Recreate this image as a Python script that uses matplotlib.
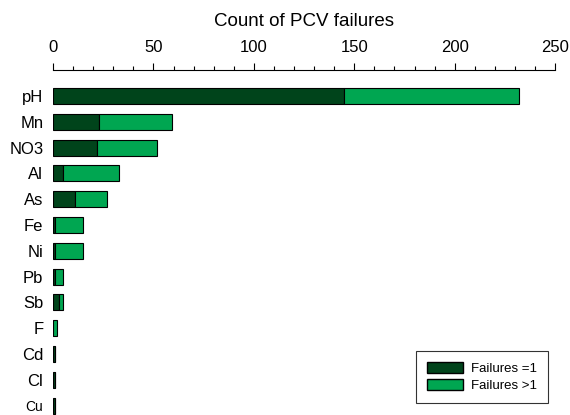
import matplotlib.pyplot as plt
import numpy as np
from matplotlib.patches import Patch
from matplotlib.ticker import MultipleLocator

plt.rcParams['font.family'] = ['Liberation Sans', 'DejaVu Sans']

elements = ['pH', 'Mn', 'NO3', 'Al', 'As', 'Fe', 'Ni', 'Pb', 'Sb', 'F', 'Cd', 'Cl', 'Cu']
fail_once = [145, 23, 22, 5, 11, 1, 1, 1, 3, 0, 1, 1, 1]
fail_more = [87, 36, 30, 28, 16, 14, 14, 4, 2, 2, 0, 0, 0]
x_ticks = [0, 50, 100, 150, 200, 250]

dark = '#00441b'
light = '#00a651'

fig = plt.figure(figsize=(5.7, 4.15), dpi=100)
ax = fig.add_axes([0.093, 0.0, 0.881, 0.831])

y = np.arange(len(elements))
ax.barh(y, fail_once, height=0.62, color=dark, edgecolor='black', linewidth=0.8)
ax.barh(y, fail_more, left=fail_once, height=0.62, color=light, edgecolor='black', linewidth=0.8)

ax.set_xlim(0, 250)
ax.set_ylim(12.36, -1.0)
ax.set_yticks(y)
ax.set_yticklabels(elements, fontsize=12)
ax.get_yticklabels()[-1].set_fontsize(10)
ax.tick_params(axis='y', length=0, pad=7)

ax.xaxis.tick_top()
ax.xaxis.set_label_position('top')
ax.set_xticks(x_ticks)
ax.xaxis.set_minor_locator(MultipleLocator(10))
ax.tick_params(axis='x', which='major', direction='out', length=5, width=0.8, labelsize=12, pad=6)
ax.tick_params(axis='x', which='minor', direction='out', length=3, width=0.8)
ax.set_xlabel('Count of PCV failures', fontsize=13.5, labelpad=10)

for s in ['left', 'right', 'bottom']:
    ax.spines[s].set_visible(False)
ax.spines['top'].set_linewidth(0.8)

handles = [Patch(facecolor=dark, edgecolor='black', label='Failures =1'),
           Patch(facecolor=light, edgecolor='black', label='Failures >1')]
leg = ax.legend(handles=handles, loc='lower right', bbox_to_anchor=(0.961, 0.029),
                bbox_transform=fig.transFigure, fontsize=9.5, frameon=True, fancybox=False,
                edgecolor='black', handlelength=2.7, handleheight=0.9, handletextpad=0.6,
                borderpad=0.85, labelspacing=0.25, borderaxespad=0)
leg.get_frame().set_linewidth(0.8)

fig.savefig('out.png', dpi=100)
